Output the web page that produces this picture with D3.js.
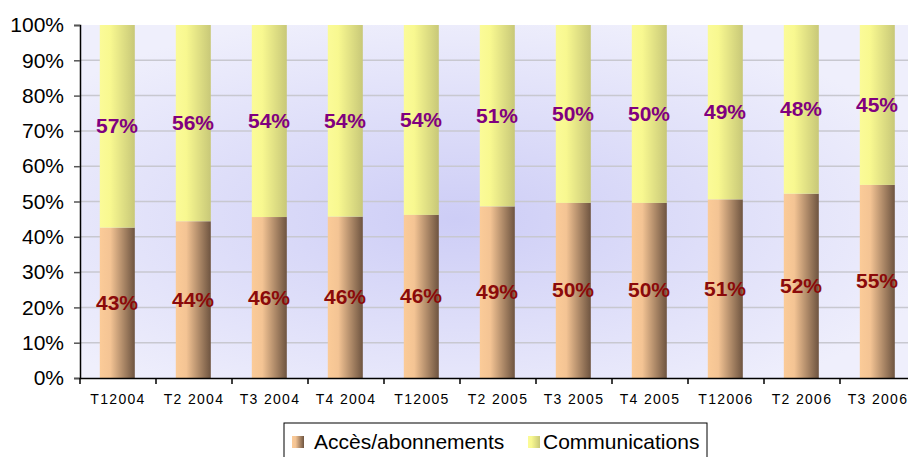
<!DOCTYPE html>
<html>
<head>
<meta charset="utf-8">
<script src="https://cdn.jsdelivr.net/npm/d3@7"></script>
<style>
  body { margin: 0; background: #fff; }
  text { font-family: Arial, "Liberation Sans", sans-serif; }
</style>
</head>
<body>
<div id="chart"></div>
<script>
// quarters on the x axis
var quarters = ["T12004", "T2 2004", "T3 2004", "T4 2004", "T12005", "T2 2005",
                "T3 2005", "T4 2005", "T12006", "T2 2006", "T3 2006"];
// share of "Accès/abonnements" (%), the rest is "Communications"
var acces = [42.6, 44.4, 45.6, 45.7, 46.2, 48.6, 49.6, 49.6, 50.6, 52.2, 54.7];
var communications = acces.map(function (v) { return 100 - v; });
var yTicks = [0, 10, 20, 30, 40, 50, 60, 70, 80, 90, 100];
var seriesNames = ["Accès/abonnements", "Communications"];

var W = 908, H = 457;
var margin = { top: 25, right: -8, bottom: 79, left: 80 };
var width = W - margin.left - margin.right;
var height = H - margin.top - margin.bottom;

var svg = d3.select("#chart").append("svg")
    .attr("width", W)
    .attr("height", H);

var defs = svg.append("defs");
var bg = defs.append("radialGradient").attr("id", "bg")
    .attr("cx", "45%").attr("cy", "55%").attr("r", "60%");
bg.append("stop").attr("offset", "0%").attr("stop-color", "#cdcdf6");
bg.append("stop").attr("offset", "100%").attr("stop-color", "#efeffc");

var gA = defs.append("linearGradient").attr("id", "gA");
gA.append("stop").attr("offset", "0%").attr("stop-color", "#fbcb98");
gA.append("stop").attr("offset", "30%").attr("stop-color", "#f4c494");
gA.append("stop").attr("offset", "100%").attr("stop-color", "#6e5440");
var gC = defs.append("linearGradient").attr("id", "gC");
gC.append("stop").attr("offset", "0%").attr("stop-color", "#fbfb98");
gC.append("stop").attr("offset", "30%").attr("stop-color", "#f8f890");
gC.append("stop").attr("offset", "100%").attr("stop-color", "#c8c878");

var g = svg.append("g")
    .attr("transform", "translate(" + margin.left + "," + margin.top + ")");

var x = d3.scaleBand().domain(quarters).range([0, width]);
var y = d3.scaleLinear().domain([0, 100]).range([height, 0]);

g.append("rect")
    .attr("width", width).attr("height", height)
    .attr("fill", "url(#bg)");

// gridlines
g.selectAll(".grid").data(yTicks.slice(1, -1)).enter().append("line")
    .attr("x1", 0).attr("x2", width)
    .attr("y1", function (d) { return y(d); })
    .attr("y2", function (d) { return y(d); })
    .attr("stroke", "#c8c8d0").attr("stroke-width", 1.5);

var barW = 35;
var bx = function (d, i) { return x(quarters[i]) + x.bandwidth() / 2 - barW / 2 - 0.7; };

g.selectAll(".barA").data(acces).enter().append("rect")
    .attr("x", bx)
    .attr("width", barW)
    .attr("y", function (d) { return y(d); })
    .attr("height", function (d) { return height - y(d); })
    .attr("fill", "url(#gA)");

g.selectAll(".barC").data(communications).enter().append("rect")
    .attr("x", bx)
    .attr("width", barW)
    .attr("y", 0)
    .attr("height", function (d) { return height - y(d); })
    .attr("fill", "url(#gC)");

// value labels
g.selectAll(".labA").data(acces).enter().append("text")
    .attr("x", function (d, i) { return x(quarters[i]) + x.bandwidth() / 2 - 1; })
    .attr("y", function (d) { return y(d / 2) + 7; })
    .attr("text-anchor", "middle")
    .attr("font-size", 21).attr("font-weight", "bold")
    .attr("fill", "#8b0a0a")
    .text(function (d) { return Math.round(d) + "%"; });

g.selectAll(".labC").data(communications).enter().append("text")
    .attr("x", function (d, i) { return x(quarters[i]) + x.bandwidth() / 2 - 1; })
    .attr("y", function (d, i) { return y(acces[i] + d / 2) + 7; })
    .attr("text-anchor", "middle")
    .attr("font-size", 21).attr("font-weight", "bold")
    .attr("fill", "#800080")
    .text(function (d) { return Math.round(d) + "%"; });

// axes
var yAxis = d3.axisLeft(y).tickValues(yTicks).tickSize(6).tickPadding(10)
    .tickFormat(function (d) { return d + "%"; });
var ya = g.append("g").call(yAxis);
ya.select(".domain").attr("stroke", "#000").attr("stroke-width", 1.5);
ya.selectAll(".tick line").attr("stroke", "#555").attr("stroke-width", 1.5);
ya.selectAll("text").attr("font-size", 21).attr("fill", "#000")
    .style("font-family", "Arial, 'Liberation Sans', sans-serif");

var xa = g.append("g").attr("transform", "translate(0," + height + ")")
    .call(d3.axisBottom(x).tickSize(0).tickPadding(16));
xa.select(".domain").attr("stroke", "#000").attr("stroke-width", 1.5);
xa.selectAll("text").attr("font-size", 14).attr("fill", "#000")
    .attr("letter-spacing", "1.3px")
    .style("font-family", "Arial, 'Liberation Sans', sans-serif");
// tick marks between categories
xa.selectAll(".sep").data(quarters).enter().append("line")
    .attr("x1", function (d) { return x(d); })
    .attr("x2", function (d) { return x(d); })
    .attr("y1", 0).attr("y2", 6)
    .attr("stroke", "#000").attr("stroke-width", 1.5);

// legend
var leg = svg.append("g").attr("transform", "translate(284,423)");
leg.append("rect").attr("width", 423).attr("height", 40)
    .attr("fill", "#fff").attr("stroke", "#000").attr("stroke-width", 1);
var legX = [8, 244], legTextX = [30, 259];
[ "url(#gA)", "url(#gC)" ].forEach(function (f, i) {
  leg.append("rect").attr("x", legX[i]).attr("y", 13).attr("width", 12).attr("height", 12)
      .attr("fill", f);
  leg.append("text").attr("x", legTextX[i]).attr("y", 26)
      .attr("font-size", 21).attr("fill", "#000")
      .text(seriesNames[i]);
});
</script>
</body>
</html>
